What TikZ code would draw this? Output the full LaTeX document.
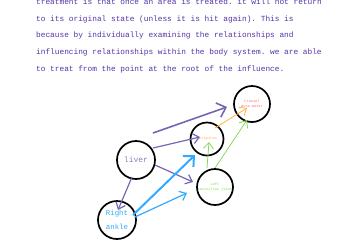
\documentclass[tikz,border=0pt]{standalone}
\usepackage{fontspec}
\setmonofont{Liberation Mono}
\usepackage{xcolor}
\definecolor{TextPurple}{HTML}{5232A6}
\definecolor{ArrowPurple}{HTML}{7565B5}
\definecolor{ArrowBlue}{HTML}{33AAFF}
\definecolor{ArrowOrange}{HTML}{FFB347}
\definecolor{ArrowGreen}{HTML}{84D858}
\definecolor{LabelRed}{HTML}{FF6B6B}
\usetikzlibrary{arrows.meta, calc}

\begin{document}
\begin{tikzpicture}[x=1bp, y=-1bp,
  spot/.style={circle, draw=black, line width=1.7pt, inner sep=0pt, align=center},
  bodytxt/.style={font=\fontsize{7.8bp}{8bp}\ttfamily, text=TextPurple,
                  anchor=base west, inner sep=0pt},
  tinylbl/.style={font=\fontsize{3.6bp}{4.6bp}\ttfamily},
  pull/.style={-{Straight Barb[length=6bp,width=10bp]}, line width=1.2pt},
  bigpull/.style={-{Straight Barb[length=8bp,width=15bp]}, line width=2pt},
]
\useasboundingbox (0,0) rectangle (360,240);
\clip (0,0) rectangle (360,240);
\def\lh{16.7}
\foreach \t [count=\i from 0] in {
  treatment is that once an area is treated. it will not return,
  to its original state (unless it is hit again). This is,
  because by individually examining the relationships and,
  influencing relationships within the body system. we are able,
  to treat from the point at the root of the influence.} {
  \node[bodytxt] (line\i) at (36,{4.5+\i*\lh}) {\t};
}

% body spots
\node[spot, minimum size=36bp, text=LabelRed, tinylbl] (dura) at (252,104)
  {Cranial\\dura mater};
\node[spot, minimum size=33bp, text=ArrowOrange, tinylbl] (occ) at (207,139)
  {Occipitum};
\node[spot, minimum size=36bp, text=ArrowGreen, tinylbl] (lsi) at (215,187)
  {Left\\sacroiliac joint};
\node[spot, minimum size=38bp, text=ArrowPurple!85,
      font=\fontsize{8bp}{9bp}\ttfamily] (liver) at (136,160) {liver};
\node[spot, minimum size=38bp, text=ArrowBlue, align=left,
      font=\fontsize{7.4bp}{14bp}\ttfamily] (ankle) at (117,220) {Right\\ankle};

% influence arrows
\draw[bigpull, ArrowPurple, line width=1.6pt] ($(liver)+(17,-27)$) -- ($(dura)+(-25,3)$);
\draw[pull, ArrowPurple] ($(liver)+(17,-12)$) -- ($(occ)+(-7,-2)$);
\draw[pull, ArrowPurple] ($(liver)+(19,5)$) -- ($(lsi)+(-22,-5)$);
\draw[pull, ArrowPurple] ($(liver)+(-4,17)$) -- ($(ankle)+(1,-10)$);
\draw[bigpull, ArrowBlue] ($(ankle)+(16,-5)$) -- ($(occ)+(-12,16)$);
\draw[pull, ArrowBlue] ($(ankle)+(18,-3)$) -- ($(lsi)+(-28,6)$);
\draw[pull, ArrowOrange, line width=0.8pt] ($(occ)+(8,-11)$) -- ($(dura)+(-5,4)$);
\draw[pull, ArrowGreen, line width=0.8pt] ($(lsi)+(-8,-19)$) -- ($(occ)+(2,3)$);
\draw[pull, ArrowGreen, line width=0.8pt] ($(lsi)+(0,-19)$) -- ($(dura)+(-5,16)$);
\end{tikzpicture}
\end{document}
